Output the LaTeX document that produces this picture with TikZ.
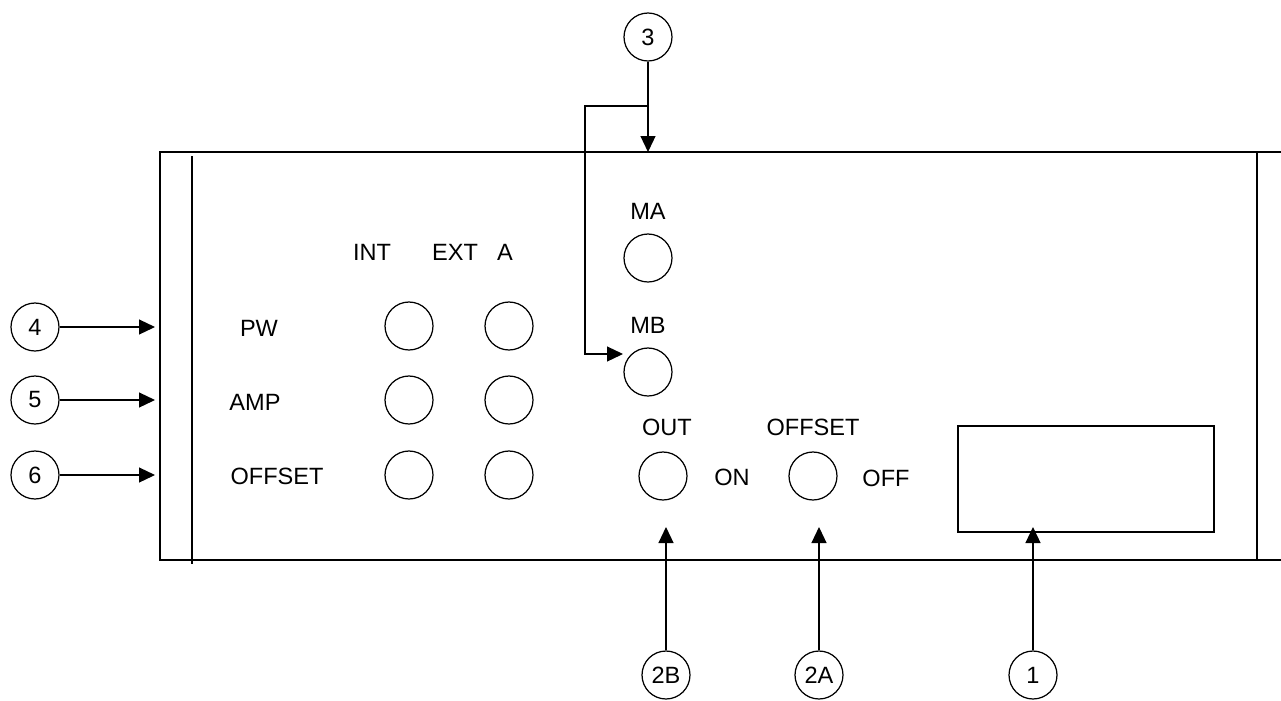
\documentclass[tikz,border=0pt]{standalone}
\usepackage{fontspec}
\setmainfont{Liberation Sans}
\usetikzlibrary{arrows.meta}
\tikzset{
  every picture/.style={font=\fontsize{13.4}{16}\selectfont,line width=0.7pt},
  knob/.style={draw,circle,minimum size=0.96cm,inner sep=0pt},
  callout/.style={draw,circle,minimum size=0.96cm,inner sep=0pt},
  lbl/.style={inner sep=0pt},
  arr/.style={-{Triangle[length=0.32cm,width=0.30cm]}},
}
\begin{document}
\begin{tikzpicture}[x=0.02cm,y=-0.02cm]
  \useasboundingbox (0,0) rectangle (1281,700);
  % front panel
  \draw (1281,152) -- (160,152) -- (160,560) -- (1281,560);
  \draw (192,156) -- (192,564);
  \draw (1257,152) -- (1257,560);
  \node[draw,minimum width=5.12cm,minimum height=2.12cm,inner sep=0pt] (display) at (1086,479) {};
  % row and column labels
  \node[lbl] (int) at (372,252) {INT};
  \node[lbl] (ext) at (455,252) {EXT};
  \node[lbl] (exta) at (505,252) {A};
  \node[lbl] (pw) at (259,328) {PW};
  \node[lbl] (amp) at (255,402) {AMP};
  \node[lbl] (offset) at (277,476) {OFFSET};
  \foreach \r/\y in {pw/326,amp/400,off/475}{
    \node[knob] (\r int) at (409,\y) {};
    \node[knob] (\r ext) at (509,\y) {};
  }
  % modulation and output controls
  \node[lbl] (malbl) at (648,211) {MA};
  \node[knob] (ma) at (648,258) {};
  \node[lbl] (mblbl) at (648,325) {MB};
  \node[knob] (mb) at (648,372) {};
  \node[lbl] (outlbl) at (667,427) {OUT};
  \node[knob] (out) at (663,476) {};
  \node[lbl] (on) at (732,477) {ON};
  \node[lbl] (offlbl) at (813,427) {OFFSET};
  \node[knob] (offs) at (813,476) {};
  \node[lbl] (off) at (886,478) {OFF};
  % callouts
  \node[callout] (c3) at (648,37) {3};
  \coordinate (t3) at (648,152);
  \coordinate (br3) at (648,106);
  \coordinate (mbin) at (623,354);
  \draw[arr] (c3) -- (t3);
  \draw[arr] (br3) -- (585,106) |- (mbin);
  \foreach \n/\y in {4/327,5/400,6/475}{
    \node[callout] (c\n) at (35,\y) {\n};
    \coordinate (in\n) at (155,\y);
    \draw[arr] (c\n) -- (in\n);
  }
  \foreach \n/\x in {2B/666,2A/819,1/1033}{
    \node[callout] (c\n) at (\x,675) {\n};
    \coordinate (t\n) at (\x,527);
    \draw[arr] (c\n) -- (t\n);
  }
\end{tikzpicture}
\end{document}
